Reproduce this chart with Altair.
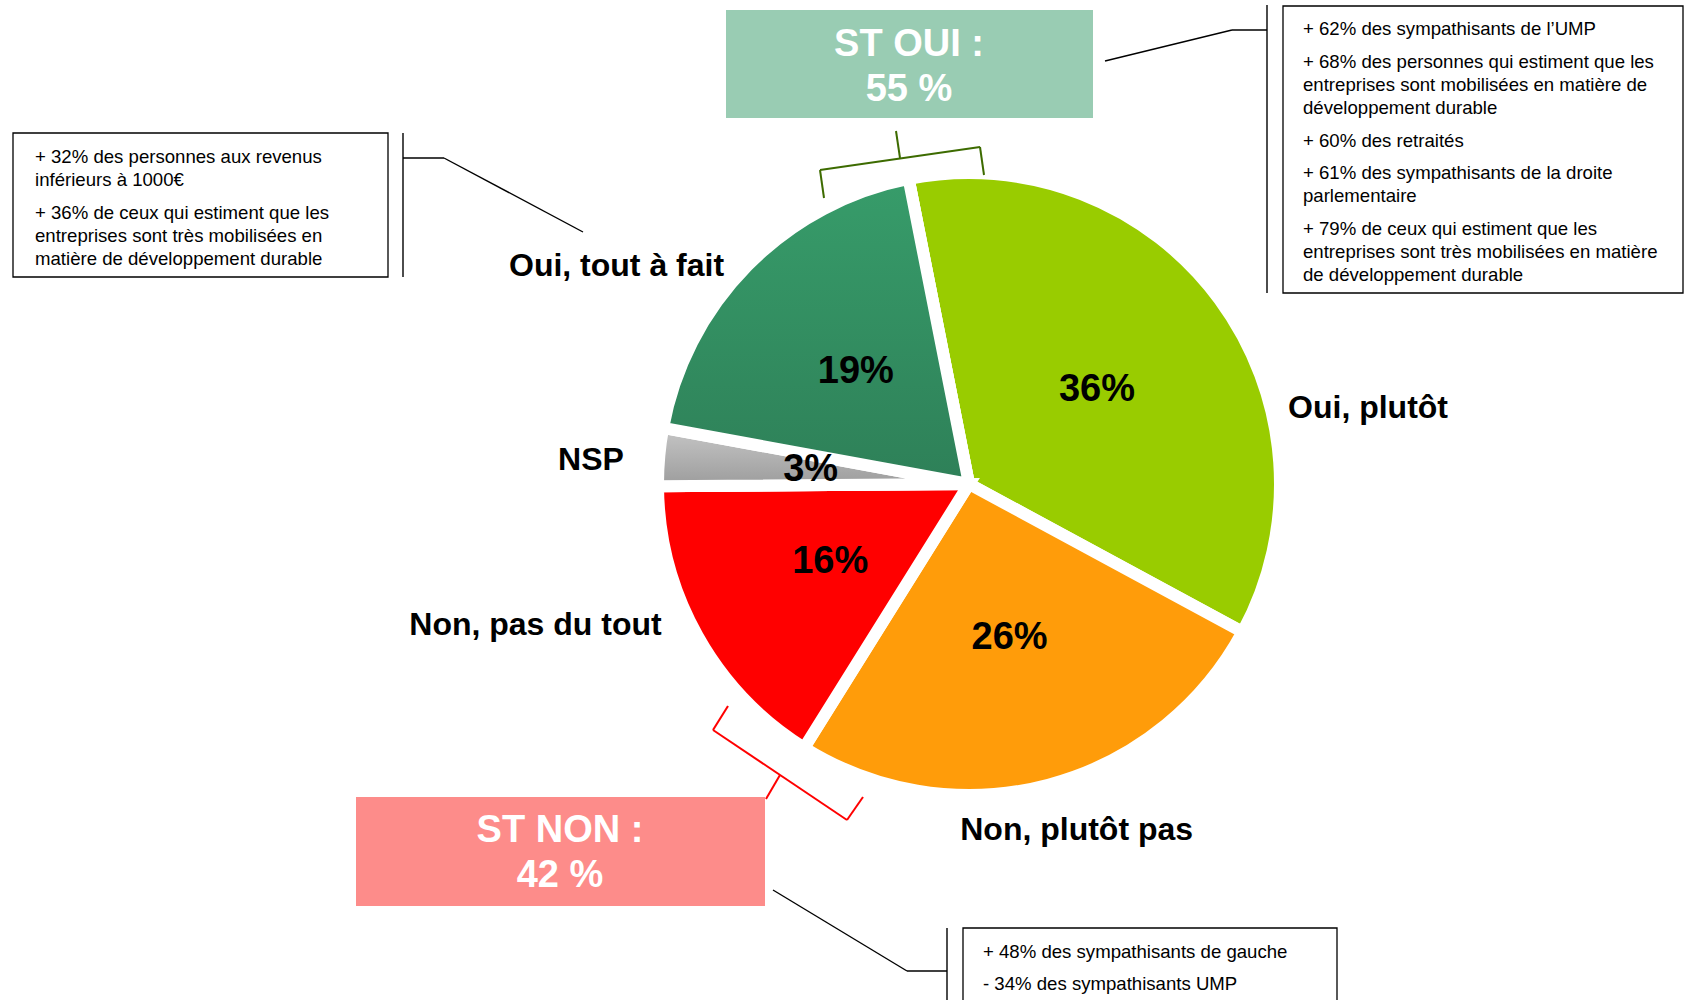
import math
import altair as alt
import pandas as pd

# ---------------- data ----------------
categories = ["Oui, plutôt", "Non, plutôt pas", "Non, pas du tout", "NSP", "Oui, tout à fait"]
values = [36, 26, 16, 3, 19]
pct_labels = ["36%", "26%", "16%", "3%", "19%"]
colors = ["#99CC00", "#FF9C0A", "#FF0000", "#B0B0B0", "#329464"]

st_oui_lines = ["ST OUI :", "55 %"]
st_non_lines = ["ST NON :", "42 %"]

left_note = [
    ["+ 32% des personnes aux revenus", "inférieurs à 1000€"],
    ["+ 36% de ceux qui estiment que les", "entreprises sont très mobilisées en",
     "matière de développement durable"],
]
right_note = [
    ["+ 62% des sympathisants de l’UMP"],
    ["+ 68% des personnes qui estiment que les", "entreprises sont mobilisées en matière de",
     "développement durable"],
    ["+ 60% des retraités"],
    ["+ 61% des sympathisants de la droite", "parlementaire"],
    ["+ 79% de ceux qui estiment que les", "entreprises sont très mobilisées en matière",
     "de développement durable"],
]
bottom_note = [["+ 48% des sympathisants de gauche"], ["- 34% des sympathisants UMP"]]

# ---------------- layout / style ----------------
W, H = 1684, 1000
CX, CY = 969, 484
R = 311
START = math.radians(-11.2)
FONT = "Liberation Sans, Arial, sans-serif"
theta_scale = alt.Scale(domain=[0, 100], range=[START, START + 2 * math.pi])

label_layout = {
    "Oui, plutôt": dict(r=328, dt=23.0, align="left"),
    "Non, plutôt pas": dict(r=362, dt=-2.5, align="center"),
    "Non, pas du tout": dict(r=338, dt=4.6, align="right"),
    "NSP": dict(r=346, dt=-1.0, align="right"),
    "Oui, tout à fait": dict(r=328, dt=-2.9, align="right"),
}

df = pd.DataFrame({"cat": categories, "value": values, "pct": pct_labels,
                   "order": list(range(len(categories)))})

base = alt.Chart(df).transform_window(
    cum="sum(value)", sort=[alt.SortField("order")], frame=[None, 0]
).transform_calculate(
    start="datum.cum - datum.value", mid="datum.cum - datum.value / 2"
)

arc_kw = dict(outerRadius=R, stroke="white", strokeWidth=12, x=CX, y=CY)
arc_enc = dict(theta=alt.Theta("start:Q", scale=theta_scale), theta2="cum:Q")

layers = []
layers.append(base.mark_arc(**arc_kw).encode(
    color=alt.Color("cat:N", scale=alt.Scale(domain=categories, range=colors), legend=None),
    **arc_enc))


def grad(c0, c1):
    return alt.Gradient(gradient="linear", x1=0, x2=0, y1=0, y2=1,
                        stops=[alt.GradientStop(color=c0, offset=0),
                               alt.GradientStop(color=c1, offset=1)])


layers.append(base.transform_filter(alt.datum.cat == "NSP").mark_arc(
    fill=grad("#C6C6C6", "#9C9C9C"), **arc_kw).encode(**arc_enc))
layers.append(base.transform_filter(alt.datum.cat == "Oui, tout à fait").mark_arc(
    fill=grad("#379C6A", "#2E8058"), **arc_kw).encode(**arc_enc))

# percentage labels
layers.append(base.mark_text(font=FONT, fontSize=38, fontWeight="bold", color="black",
                             x=CX, y=CY, align="center", baseline="middle").encode(
    theta=alt.Theta("mid:Q", scale=theta_scale), radius=alt.value(159), text="pct:N"))

# category labels
for cat in categories:
    lay = label_layout[cat]
    layers.append(base.transform_filter(alt.datum.cat == cat).mark_text(
        font=FONT, fontSize=32, fontWeight="bold", color="black", x=CX, y=CY,
        align=lay["align"], baseline="middle", thetaOffset=math.radians(lay["dt"])).encode(
        theta=alt.Theta("mid:Q", scale=theta_scale), radius=alt.value(lay["r"]), text="cat:N"))

# ---------------- annotations ----------------
one = pd.DataFrame({"k": [0]})


def rect(x, x2, y, y2, fill, stroke=None):
    kw = dict(fill=fill)
    if stroke:
        kw.update(stroke=stroke, strokeWidth=1.3)
    return alt.Chart(one).mark_rect(**kw).encode(
        x=alt.value(x), x2=alt.value(x2), y=alt.value(y), y2=alt.value(y2))


def seg(p, q, color="black", w=1.4):
    return alt.Chart(one).mark_rule(color=color, strokeWidth=w).encode(
        x=alt.value(p[0]), y=alt.value(p[1]), x2=alt.value(q[0]), y2=alt.value(q[1]))


def txt(s, x, y, size, bold=False, color="black", align="left"):
    return alt.Chart(one).mark_text(font=FONT, fontSize=size, fontWeight="bold" if bold else "normal",
                                    color=color, align=align, baseline="middle").encode(
        x=alt.value(x), y=alt.value(y), text=alt.value(s))


def polyline(pts, color, w):
    return [seg(pts[i], pts[i + 1], color, w) for i in range(len(pts) - 1)]


# ST OUI / ST NON boxes
layers.append(rect(726, 1093, 10, 118, "#99CCB3"))
layers.append(txt(st_oui_lines[0], 909, 45, 38, True, "white", "center"))
layers.append(txt(st_oui_lines[1], 909, 90, 38, True, "white", "center"))
layers.append(rect(356, 765, 797, 906, "#FD8C8A"))
layers.append(txt(st_non_lines[0], 560, 831, 38, True, "white", "center"))
layers.append(txt(st_non_lines[1], 560, 876, 38, True, "white", "center"))

# brackets
layers += polyline([(824, 198), (820, 170), (980, 147), (984, 175)], "#3D6B00", 2)
layers += polyline([(900, 158), (896, 131)], "#3D6B00", 2)
layers += polyline([(728, 706), (713, 730), (847, 820), (863, 797)], "#FF0000", 2)
layers += polyline([(780, 775), (766, 799)], "#FF0000", 2)

# note boxes
layers.append(rect(13, 388, 133, 277, "white", "black"))
layers.append(rect(1283, 1683, 6, 293, "white", "black"))
layers.append(rect(963, 1337, 928, 1010, "white", "black"))

# connectors
layers += polyline([(403, 133), (403, 277)], "black", 1.4)
layers += polyline([(403, 158), (444, 158), (583, 232)], "black", 1.4)
layers += polyline([(1267, 5), (1267, 293)], "black", 1.4)
layers += polyline([(1267, 30), (1232, 30), (1105, 61)], "black", 1.4)
layers += polyline([(947, 928), (947, 1000)], "black", 1.4)
layers += polyline([(947, 971), (907, 971), (773, 890)], "black", 1.4)


def note(paras, x, y0, lh=23, gap=32.75, size=18.6):
    out = []
    y = y0
    for pi, para in enumerate(paras):
        if pi > 0:
            y += gap
        for li, line in enumerate(para):
            if li > 0:
                y += lh
            out.append(txt(line, x, y, size))
    return out


layers += note(left_note, 35, 157, gap=33)
layers += note(right_note, 1303, 29, gap=32.75)
layers += note(bottom_note, 983, 952, gap=32)

chart = alt.layer(*layers).properties(
    width=W, height=H, padding=0, background="white",
    autosize=alt.AutoSizeParams(type="none"),
).configure_view(stroke=None)

chart.save("out.html", embed_options={"renderer": "svg", "actions": False})
